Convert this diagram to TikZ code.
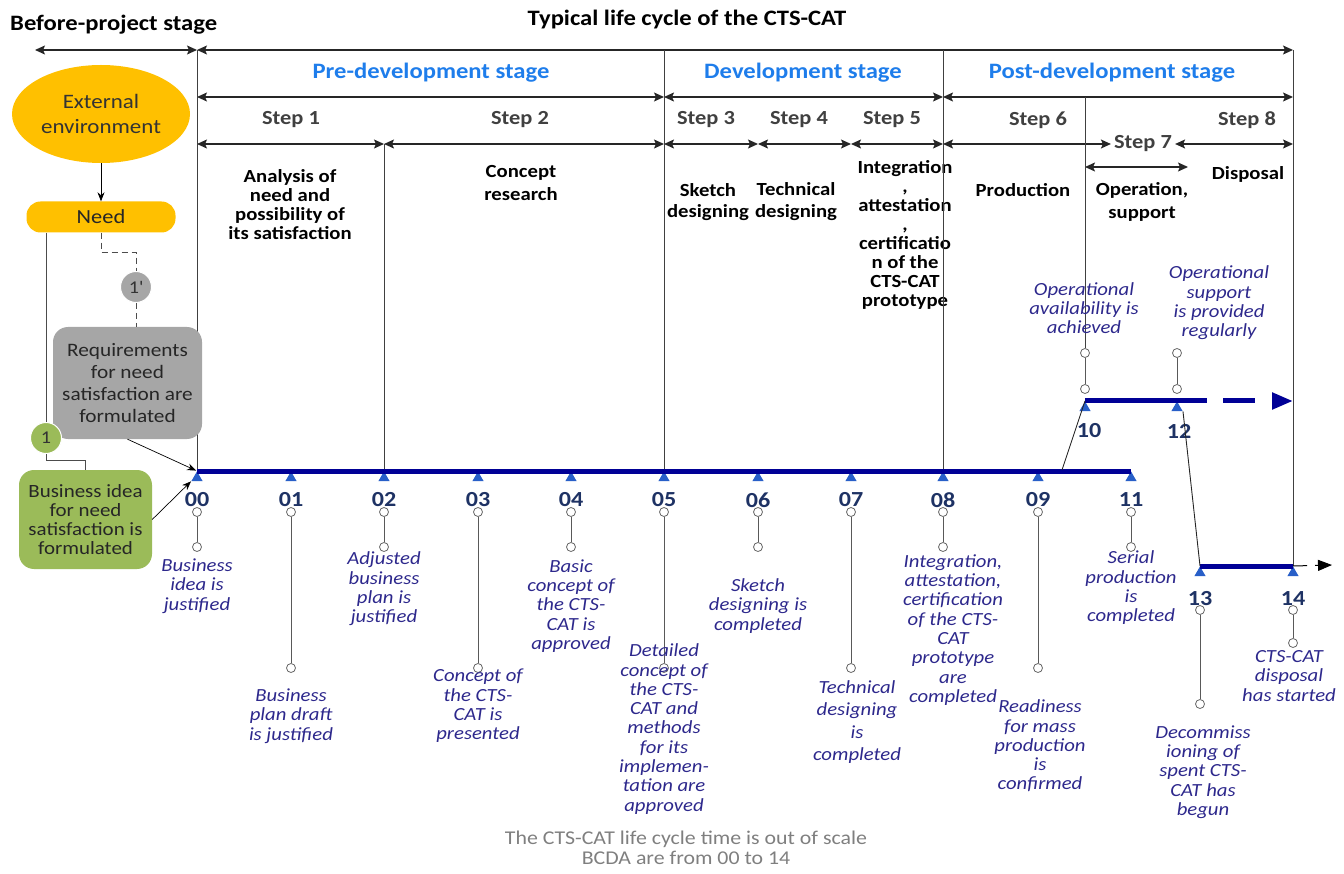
\documentclass[tikz,border=0pt]{standalone}
\usepackage{fontspec}
\setmainfont{Carlito}[FakeStretch=1.12]
\usetikzlibrary{arrows.meta,shapes.geometric,positioning}

\definecolor{ambr}{RGB}{255,192,0}
\definecolor{olivegreen}{RGB}{155,187,89}
\definecolor{boxgray}{RGB}{166,166,166}
\definecolor{stageblue}{RGB}{30,125,235}
\definecolor{stepgray}{RGB}{64,64,64}
\definecolor{eventblue}{RGB}{45,40,140}
\definecolor{numblue}{RGB}{30,50,100}
\definecolor{lineblue}{RGB}{0,0,150}
\definecolor{triblue}{RGB}{40,95,200}
\definecolor{footgray}{RGB}{127,127,127}

\newcommand{\setfs}[2]{\fontsize{#1}{#2}\selectfont}

\begin{document}
\begin{tikzpicture}[x=1pt, y=-1pt,
        spanarrow/.style={{Stealth[length=10pt,width=9pt,inset=2pt]}-{Stealth[length=10pt,width=9pt,inset=2pt]}, line width=1.3pt, black!85},
        divider/.style={draw=black!75, line width=0.8pt},
        headtext/.style={font=\setfs{22}{26}\bfseries, inner sep=0pt},
        stagetext/.style={font=\setfs{22}{26}\bfseries, text=stageblue, inner sep=0pt},
        steptext/.style={font=\setfs{20}{24}\bfseries, text=stepgray, inner sep=0pt},
        stepnote/.style={font=\setfs{18.5}{19}\bfseries, align=center, inner sep=0pt},
        eventtext/.style={font=\setfs{18.5}{19.3}\itshape, text=eventblue, align=center, inner sep=0pt},
        milestone/.style={regular polygon, regular polygon sides=3, fill=triblue, minimum size=13pt, inner sep=0pt, anchor=north},
        numlabel/.style={font=\setfs{21.5}{24}\bfseries, text=numblue, inner sep=0pt},
        knob/.style={circle, draw=black!60, fill=white, line width=0.8pt, minimum size=9pt, inner sep=0pt},
        stemline/.style={draw=black!65, line width=1pt},
        tline/.style={draw=lineblue, line width=5pt},
        link/.style={draw=black!70, line width=0.9pt},
        dashlink/.style={draw=black!70, line width=0.9pt, dash pattern=on 6pt off 4pt},
        pointer/.style={-{Stealth[length=9pt,width=7pt]}, black, line width=0.7pt},
        envnode/.style={ellipse, fill=ambr, minimum width=178pt, minimum height=98pt, inner sep=0pt, align=center, text=black!80, font=\setfs{20.5}{25}},
        needbox/.style={rounded corners=14pt, fill=ambr, minimum width=149pt, minimum height=31pt, inner sep=0pt, text=black!85, font=\setfs{20}{24}},
        notebox/.style={rounded corners=15pt, align=center, inner sep=0pt, text=black!85},
        badge/.style={circle, minimum size=31pt, inner sep=0pt, text=black!80, font=\setfs{18}{20}, draw=white, line width=1pt},
        foottext/.style={font=\setfs{19.5}{19.5}, text=footgray, align=center, inner sep=0pt}
    ]
        \useasboundingbox (0,0) rectangle (1344,874);

        % Frame coordinates
        \coordinate (top0) at (35,50);
        \coordinate (top1) at (197,50);
        \coordinate (top2) at (1293,50);
        \coordinate (cut2) at (664,50);
        \coordinate (cut3) at (943,50);
        \coordinate (cut4) at (1085,97);
        \foreach \x [count=\i] in {197,664,943,1293}
            \coordinate (mid\i) at (\x,97);
        \foreach \x [count=\i] in {197,384,664,758,851,943,1293}
            \coordinate (low\i) at (\x,144);
        \coordinate (op1) at (1085,167);
        \coordinate (op2) at (1188,167);

        % Headings
        \node[headtext, anchor=west] (before) at (10,25) {Before-project stage};
        \node[headtext] (cycle) at (687,20) {Typical life cycle of the CTS-CAT};
        \node[stagetext] (pre) at (431,73) {Pre-development stage};
        \node[stagetext] (dev) at (803,73) {Development stage};
        \node[stagetext] (post) at (1112,73) {Post-development stage};

        % Step names
        \foreach \n/\x in {1/291, 2/520, 3/706, 4/799, 5/892, 6/1038, 8/1247}
            \node[steptext] (step\n) at (\x,120) {Step \n};
        \node[steptext, inner xsep=3pt] (step7) at (1143,144) {Step 7};

        % Span arrows
        \draw[spanarrow] (top0) -- (top1);
        \draw[spanarrow] (top1) -- (top2);
        \foreach \i/\j in {1/2,2/3,3/4}
            \draw[spanarrow] (mid\i) -- (mid\j);
        \foreach \i/\j in {1/2,2/3,3/4,4/5,5/6}
            \draw[spanarrow] (low\i) -- (low\j);
        \draw[spanarrow] (low6) -- (step7.west);
        \draw[spanarrow] (step7.east) -- (low7);
        \draw[spanarrow] (op1) -- (op2);

        % Step contents
        \node[stepnote] (analysis) at (290,205) {Analysis of\\need and\\possibility of\\its satisfaction};
        \node[stepnote] (concept) at (521,183) {Concept\\[4pt]research};
        \node[stepnote] (sketch) at (708,202) {Sketch\\[2pt]designing};
        \node[stepnote] (technical) at (796,202) {Technical\\[3pt]designing};
        \node[stepnote] (integration) at (905,235) {Integration\\,\\attestation\\,\\certificatio\\n of the\\CTS-CAT\\prototype};
        \node[stepnote] (production) at (1023,190) {Production};
        \node[stepnote] (operation) at (1142,202) {Operation,\\[4pt]support};
        \node[stepnote] (disposal) at (1248,174) {Disposal};

        % Main timeline milestones
        \foreach \lab/\x/\y in {00/197/547, 01/291/668, 02/384/547, 03/478/668, 04/571/547, 05/664/668, 06/758/547, 07/851/668, 08/943/547, 09/1038/668, 11/1131/547} {
            \node[milestone] (m\lab) at (\x,471) {};
            \node[numlabel] (n\lab) at (\x,500) {\lab};
            \node[knob] (a\lab) at (\x,512) {};
            \node[knob] (b\lab) at (\x,\y) {};
            \draw[stemline] (a\lab) -- (b\lab);
        }

        % Upper milestones
        \foreach \lab/\x/\t in {10/1085/1089, 12/1177/1179} {
            \node[milestone] (m\lab) at (\x,401) {};
            \node[numlabel] (n\lab) at (\t,431) {\lab};
            \node[knob] (a\lab) at (\x,389) {};
            \node[knob] (b\lab) at (\x,353) {};
            \draw[stemline] (a\lab) -- (b\lab);
        }

        % Lower milestones
        \foreach \lab/\x/\y in {13/1200/704, 14/1293/643} {
            \node[milestone] (m\lab) at (\x,566) {};
            \node[numlabel] (n\lab) at (\x,599) {\lab};
            \node[knob] (a\lab) at (\x,610) {};
            \node[knob] (b\lab) at (\x,\y) {};
            \draw[stemline] (a\lab) -- (b\lab);
        }

        % Stage dividers
        \draw[divider] (top1) -- (m00.north);
        \draw[divider] (low2) -- (m02.north);
        \draw[divider] (cut2) -- (m05.north);
        \draw[divider] (cut3) -- (m08.north);
        \draw[divider] (cut4) -- (b10);
        \draw[divider] (top2) -- (m14.north);

        % Timelines
        \coordinate (fork) at (1062,470);
        \coordinate (gap1) at (1207,401);
        \coordinate (dash1) at (1223,401);
        \coordinate (upend) at (1293,401);
        \coordinate (lowend) at (1332,565);
        \draw[tline] (m00.north) -- (m11.north);
        \draw[tline] (m10.north) -- (gap1);
        \draw[tline, dash pattern=on 32pt off 17pt, -{Triangle[length=21pt,width=16pt]}] (dash1) -- (upend);
        \draw[tline] (m13.north) -- (m14.north);
        \draw[black, line width=1pt, dash pattern=on 14pt off 8pt, -{Triangle[length=14pt,width=11pt]}] (m14.north) -- (lowend);
        \draw[link, black!85] (fork) -- (m10.north);
        \draw[link, black!85] (m12.corner 3) -- (m13.north);

        % Events
        \node[eventtext] (e00) at (197,586) {Business\\idea is\\justified};
        \node[eventtext] (e01) at (291,716) {Business\\plan draft\\is justified};
        \node[eventtext] (e02) at (384,589) {Adjusted\\business\\plan is\\justified};
        \node[eventtext] (e03) at (478,706) {Concept of\\the CTS-\\CAT is\\presented};
        \node[eventtext] (e04) at (571,606) {Basic\\concept of\\the CTS-\\CAT is\\approved};
        \node[eventtext] (e05) at (664,729) {Detailed\\concept of\\the CTS-\\CAT and\\methods\\for its\\implemen-\\tation are\\approved};
        \node[eventtext] (e06) at (758,606) {Sketch\\designing is\\completed};
        \node[eventtext] (e07) at (857,722) {Technical\\[3pt]designing\\[3pt]is\\[3pt]completed};
        \node[eventtext] (e08) at (953,630) {Integration,\\attestation,\\certification\\of the CTS-\\CAT\\prototype\\are\\completed};
        \node[eventtext] (e09) at (1040,746) {Readiness\\for mass\\production\\is\\confirmed};
        \node[eventtext] (e11) at (1131,588) {Serial\\production\\is\\completed};
        \node[eventtext] (e13) at (1203,772) {Decommiss\\ioning of\\spent CTS-\\CAT has\\begun};
        \node[eventtext] (e14) at (1289,676) {CTS-CAT\\disposal\\has started};
        \node[eventtext] (e10) at (1084,308) {Operational\\availability is\\achieved};
        \node[eventtext] (e12) at (1219,303) {Operational\\support\\is provided\\regularly};

        % Before-project stage
        \node[envnode] (env) at (101,114) {External\\environment};
        \node[needbox] (need) at (101,217) {Need};
        \node[badge, fill=boxgray] (b1p) at (136,287) {1\textquotesingle};
        \node[notebox, fill=boxgray, minimum width=149pt, minimum height=112pt, font=\setfs{19}{22.3}] (req) at (127.5,383) {Requirements\\for need\\satisfaction are\\formulated};
        \node[badge, fill=olivegreen] (b1) at (46,438) {1};
        \node[notebox, fill=olivegreen, minimum width=133pt, minimum height=99pt, font=\setfs{18.7}{19}] (idea) at (85.5,519.5) {Business idea\\for need\\satisfaction is\\formulated};

        \draw[pointer] (env) -- (need);
        \draw[link] ([xshift=-55pt]need.south) -- (b1);
        \draw[link] (b1.south) |- ([yshift=9pt]idea.north) -- (idea.north);
        \draw[dashlink] (need.south) |- ([yshift=19pt]b1p.north) -- (b1p.north);
        \draw[dashlink] (b1p.south) -- (b1p.south |- req.north);
        \draw[pointer, shorten >=1pt] (req.south) -- (m00.north);
        \draw[pointer] (idea.east) -- (m00.corner 2);

        % Note
        \node[foottext] (note) at (686,848) {The CTS-CAT life cycle time is out of scale\\BCDA are from 00 to 14};
    \end{tikzpicture}
\end{document}
